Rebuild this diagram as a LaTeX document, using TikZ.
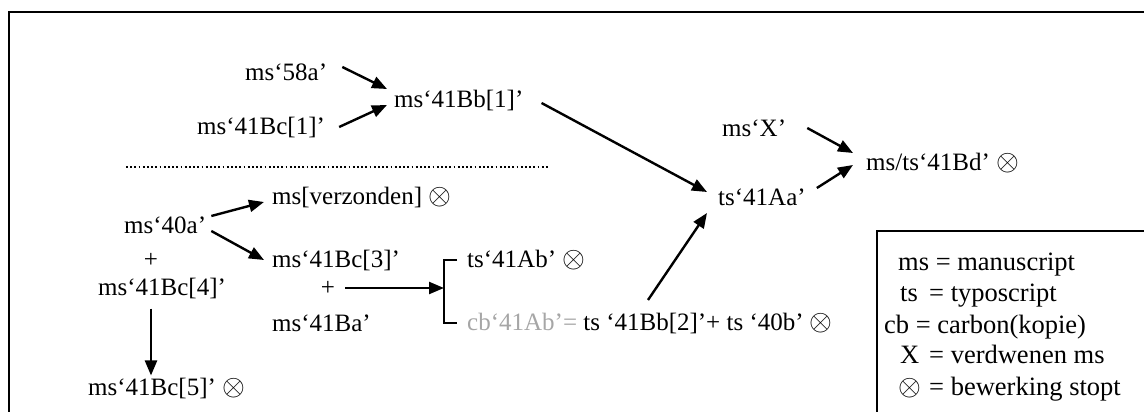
\documentclass[tikz,border=0pt]{standalone}
\usepackage{fontspec}
\setmainfont{Liberation Serif}
\newcommand{\ox}{\raisebox{-0.5pt}{\scalebox{1.18}{$\otimes$}}}
\usetikzlibrary{arrows.meta,calc}
\definecolor{lgray}{HTML}{A6A6A6}
\begin{document}
\begin{tikzpicture}[x=1pt,y=-1pt,
  txt/.style={anchor=west,inner sep=0pt,font=\fontsize{25}{28}\selectfont},
  ctxt/.style={anchor=center,inner sep=0pt,font=\fontsize{25}{28}\selectfont},
  arr/.style={line width=2.4pt,-{Triangle[length=15pt,width=12pt]}},
  leg/.style={anchor=base west,inner sep=0pt,font=\fontsize{26.5}{30}\selectfont}]
\useasboundingbox (0,0) rectangle (1144,412);
% frame
\draw[line width=2.4pt] (9,420) -- (9,12) -- (1150,12);
% nodes
\node[txt] (n58a) at (245,72) {ms‘58a’};
\node[txt] (nBbA) at (394,100) {ms‘41Bb[1]’};
\node[txt] (nBcA) at (197,127) {ms‘41Bc[1]’};
\draw[line width=2pt,dash pattern=on 1.8pt off 2.4pt] (126,167) -- (549,167);
\node[txt] (nverz) at (272,197) {ms[verzonden] \ox};
\node[txt] (n40a) at (124,225) {ms‘40a’};
\node[ctxt] (plusA) at (151,260) {+};
\node[txt] (nBcD) at (98,288) {ms‘41Bc[4]’};
\node[txt] (nBcE) at (88,388) {ms‘41Bc[5]’ \ox};
\node[txt] (nBcC) at (272,260) {ms‘41Bc[3]’};
\node[ctxt] (plusB) at (328,288) {+};
\node[txt] (nBa) at (272,323) {ms‘41Ba’};
\node[txt] (nAb) at (467,260) {ts‘41Ab’ \ox};
\node[txt] (ncb) at (467,323) {\textcolor{lgray}{cb‘41Ab’=} ts ‘41Bb[2]’+ ts ‘40b’ \ox};
\node[txt] (nAa) at (718,197) {ts‘41Aa’};
\node[txt] (nX) at (722,128) {ms‘X’};
\node[txt] (nBd) at (866,163) {ms/ts‘41Bd’ \ox};
% bracket
\coordinate (brT) at (444,260);
\coordinate (brB) at (444,323);
\coordinate (brM) at (444,288);
\draw[line width=2pt] (457,260) -- (brT) -- (brB) -- (457,323);
% arrows
\draw[arr] ([xshift=15pt,yshift=5pt]n58a.east) -- ([xshift=-7pt,yshift=11pt]nBbA.west);
\draw[arr] ([xshift=14pt]nBcA.east) -- ([xshift=-7pt,yshift=-5pt]nBbA.west);
\draw[arr] ([xshift=18pt,yshift=-3pt]nBbA.east) -- ([xshift=-11pt,yshift=5pt]nAa.west);
\draw[arr] ([xshift=5pt,yshift=9pt]n40a.east) -- ([xshift=-8pt,yshift=-5pt]nverz.west);
\draw[arr] ([xshift=5pt,yshift=-6pt]n40a.east) -- ([xshift=-8pt]nBcC.west);
\draw[arr] ([yshift=-10pt]nBcD.south -| plusA.center) -- ([yshift=2pt]nBcE.north -| plusA.center);
\draw[arr] ([xshift=10pt]plusB.east) -- (brM);
\draw[arr] ([xshift=181pt,yshift=23pt]ncb.west) -- ([xshift=-11pt,yshift=-16pt]nAa.west);
\draw[arr] ([xshift=21pt]nX.east) -- ([xshift=-13pt,yshift=10pt]nBd.west);
\draw[arr] ([xshift=11pt,yshift=9pt]nAa.east) -- ([xshift=-13pt,yshift=-2pt]nBd.west);
% legend
\draw[line width=1.6pt] (877,420) -- (877,231) -- (1150,231);
\node[leg] (lA) at (898,270) {ms = manuscript};
\node[leg] (lB) at (900,301) {\makebox[29pt][l]{ts}= typoscript};
\node[leg] (lC) at (884,333) {cb = carbon(kopie)};
\node[leg] (lD) at (900,363) {\makebox[29pt][l]{X}= verdwenen ms};
\node[leg] (lE) at (898,395) {\makebox[31pt][l]{\ox}= bewerking stopt};
\end{tikzpicture}
\end{document}
